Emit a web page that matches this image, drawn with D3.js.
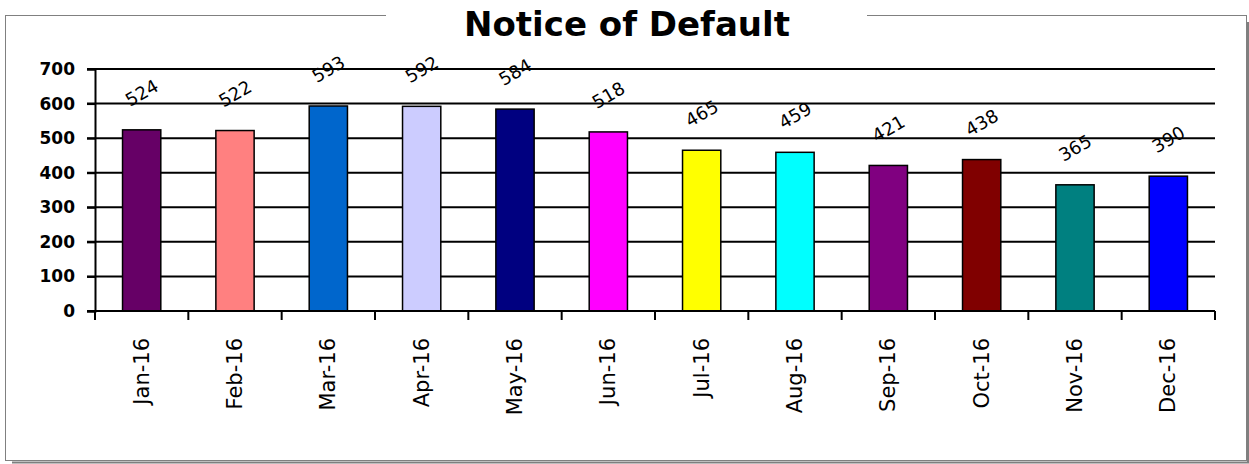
<!DOCTYPE html>
<html>
<head>
<meta charset="utf-8">
<script src="https://cdn.jsdelivr.net/npm/d3@7"></script>
<style>
  html, body { margin: 0; padding: 0; background: #fff; }
  svg { display: block; }
</style>
</head>
<body>
<script>
const categories = ["Jan-16","Feb-16","Mar-16","Apr-16","May-16","Jun-16","Jul-16","Aug-16","Sep-16","Oct-16","Nov-16","Dec-16"];
const values = [524, 522, 593, 592, 584, 518, 465, 459, 421, 438, 365, 390];
const barColors = ["#660066","#FF8080","#0066CC","#CCCCFF","#000080","#FF00FF","#FFFF00","#00FFFF","#800080","#800000","#008080","#0000FF"];
const yTicks = [0, 100, 200, 300, 400, 500, 600, 700];
const title = "Notice of Default";

const W = 1249, H = 464;
const svg = d3.select("body").append("svg").attr("width", W).attr("height", H);

// frame with shadow
svg.append("line").attr("x1", 1248).attr("x2", 1248).attr("y1", 22).attr("y2", 463)
  .attr("stroke", "#7f7f7f").attr("stroke-width", 2);
svg.append("line").attr("x1", 12).attr("x2", 1249).attr("y1", 462.5).attr("y2", 462.5)
  .attr("stroke", "#7f7f7f").attr("stroke-width", 2);
svg.append("rect").attr("x", 5.5).attr("y", 15.5).attr("width", 1241).attr("height", 445)
  .attr("fill", "#fff").attr("stroke", "#808080").attr("stroke-width", 1);
// gap for title
svg.append("rect").attr("x", 386).attr("y", 10).attr("width", 481).attr("height", 12).attr("fill", "#fff");

svg.append("text").attr("x", 627).attr("y", 35.5)
  .attr("text-anchor", "middle")
  .attr("font-family", "DejaVu Sans, sans-serif").attr("font-weight", "bold")
  .attr("font-size", 34).attr("fill", "#000")
  .text(title);

const x = d3.scaleBand().domain(categories).range([95, 1215]).padding(0);
const y = d3.scaleLinear().domain([0, 700]).range([311, 69]);

// gridlines
svg.append("g").selectAll("line").data(yTicks).join("line")
  .attr("x1", 87).attr("x2", 1215)
  .attr("y1", d => y(d)).attr("y2", d => y(d))
  .attr("stroke", "#000").attr("stroke-width", 2);

// y axis
const yAxis = svg.append("g").attr("transform", "translate(95,0)")
  .call(d3.axisLeft(y).tickValues(yTicks).tickSize(8).tickPadding(12));
yAxis.select(".domain").attr("stroke", "#000").attr("stroke-width", 2);
yAxis.selectAll(".tick line").attr("stroke", "#000").attr("stroke-width", 2);
yAxis.selectAll("text").attr("font-family", "DejaVu Sans, sans-serif").attr("font-weight", "bold")
  .attr("font-size", 17).attr("fill", "#000");

// bars
const bw = x.bandwidth() * 0.41;
svg.append("g").selectAll("rect").data(values).join("rect")
  .attr("x", (d, i) => x(categories[i]) + (x.bandwidth() - bw) / 2)
  .attr("y", d => y(d))
  .attr("width", bw)
  .attr("height", d => y(0) - y(d))
  .attr("fill", (d, i) => barColors[i])
  .attr("stroke", "#000").attr("stroke-width", 1.5);

// x axis
const xAxis = svg.append("g").attr("transform", "translate(0,311)");
xAxis.append("line").attr("x1", 95).attr("x2", 1215).attr("y1", 0).attr("y2", 0)
  .attr("stroke", "#000").attr("stroke-width", 2);
const bounds = categories.map(c => x(c)).concat([x.range()[1]]);
xAxis.selectAll(".tk").data(bounds).join("line").attr("class", "tk")
  .attr("x1", d => d).attr("x2", d => d).attr("y1", 0).attr("y2", 9)
  .attr("stroke", "#000").attr("stroke-width", 2);
xAxis.selectAll(".lbl").data(categories).join("text").attr("class", "lbl")
  .attr("transform", d => `translate(${x(d) + x.bandwidth() / 2},27) rotate(-90)`)
  .attr("text-anchor", "end").attr("dominant-baseline", "central")
  .attr("font-family", "DejaVu Sans, sans-serif").attr("font-size", 21).attr("fill", "#000")
  .text(d => d);

// value labels
svg.append("g").selectAll("text").data(values).join("text")
  .attr("transform", (d, i) => `translate(${x(categories[i]) + x.bandwidth() / 2},${y(d) - 37}) rotate(-30)`)
  .attr("text-anchor", "middle").attr("dominant-baseline", "central")
  .attr("font-family", "DejaVu Sans, sans-serif").attr("font-size", 18).attr("fill", "#000")
  .text(d => d);
</script>
</body>
</html>
